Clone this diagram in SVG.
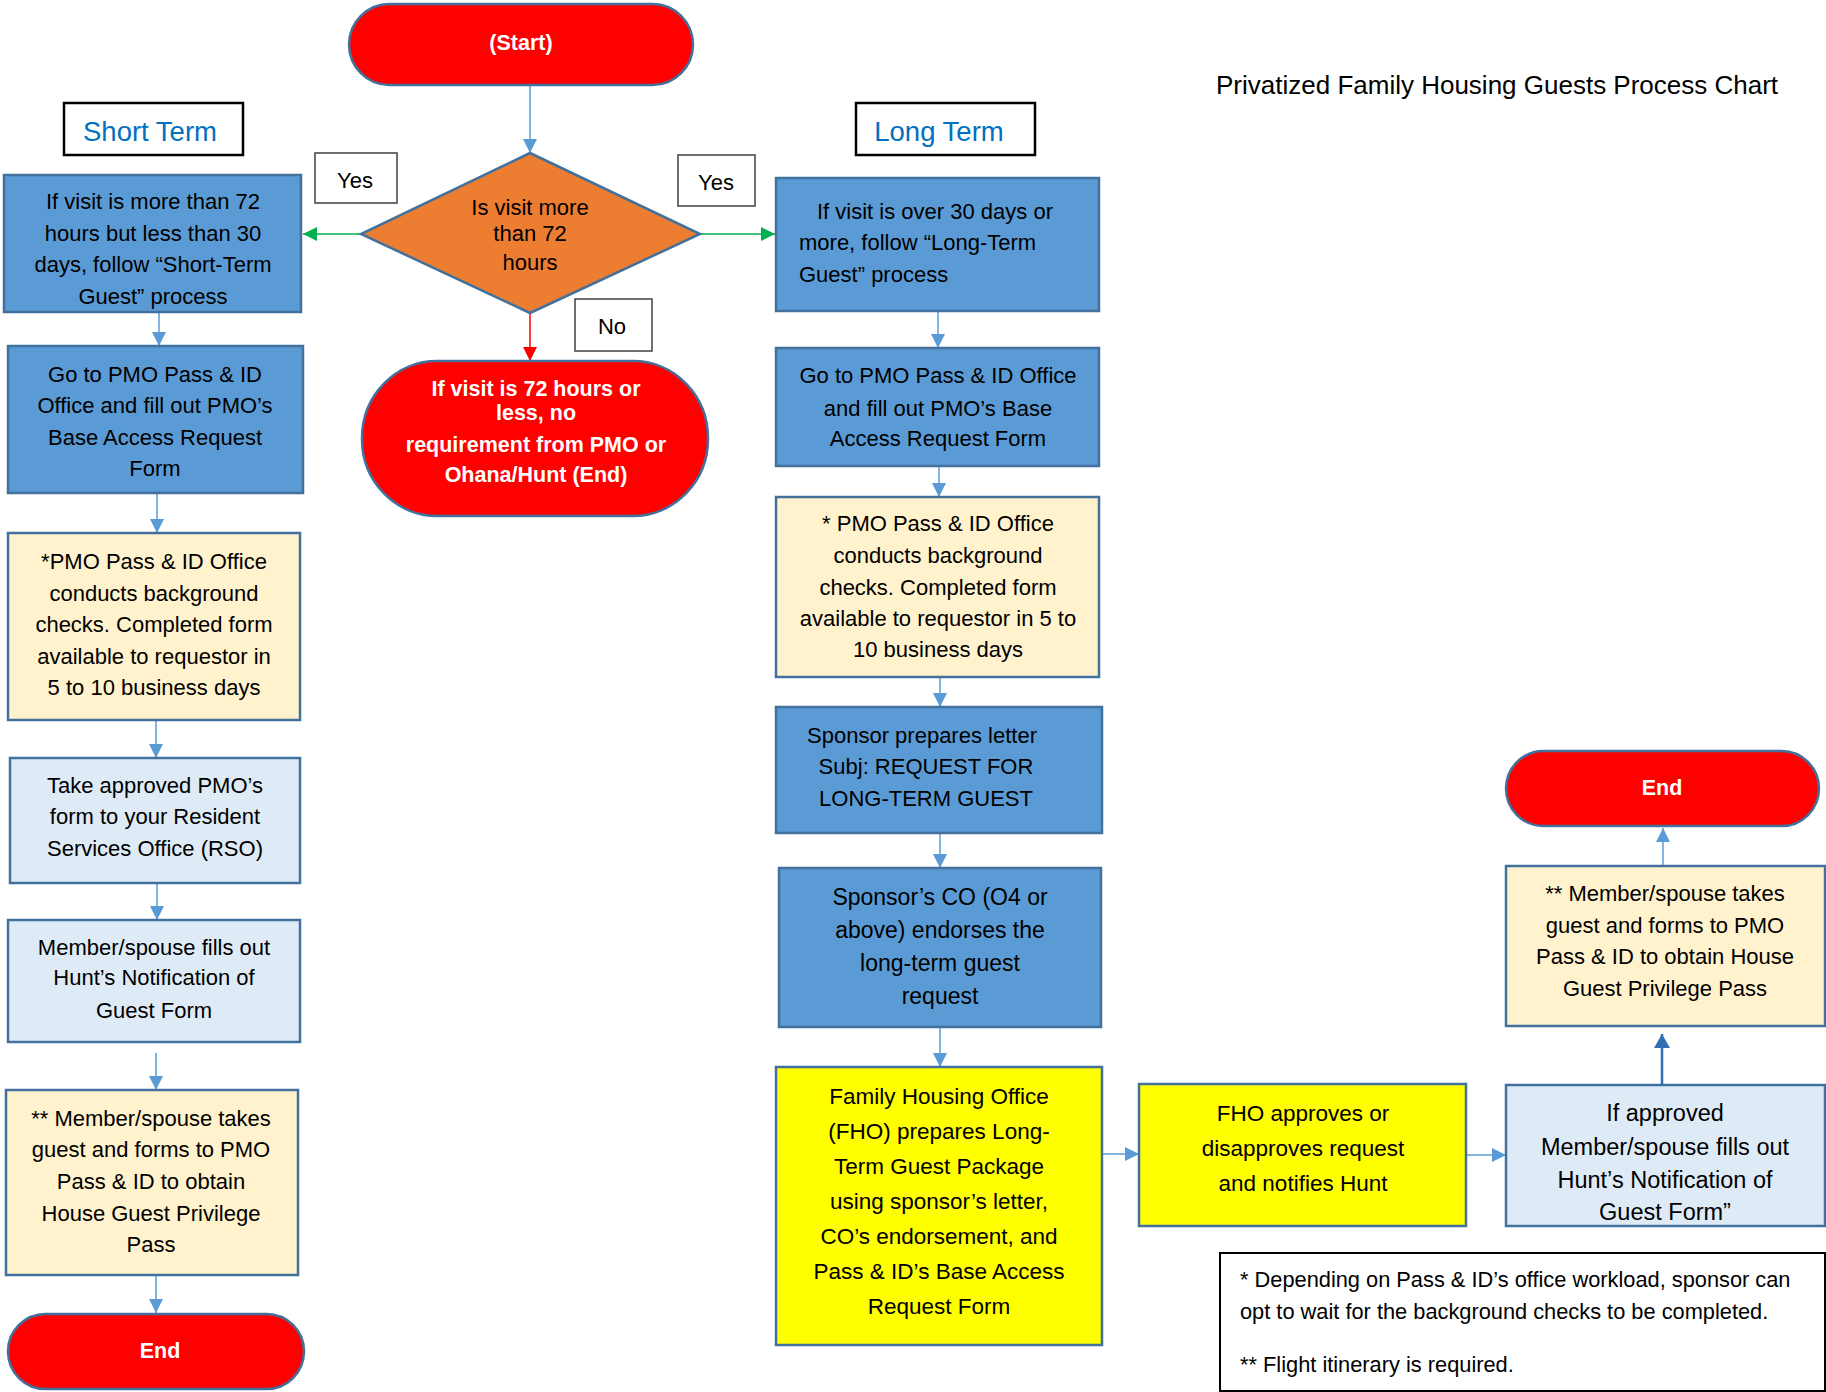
<svg xmlns="http://www.w3.org/2000/svg" width="1826" height="1392" viewBox="0 0 1826 1392">
<style>
text{font-family:"Liberation Sans",Arial,sans-serif;fill:#000;}
.t{font-size:22px;text-anchor:middle;}
.t22{font-size:22.5px;text-anchor:middle;}
.w{fill:#fff;font-weight:bold;font-size:21.5px;text-anchor:middle;}
.box{stroke:#41719C;stroke-width:2.5;}
.blue{fill:#5B9BD5;}
.light{fill:#DEEBF7;}
.beige{fill:#FFF2CC;}
.yellow{fill:#FFFF00;}
.red{fill:#FF0000;}
.lbl{fill:#fff;stroke:#404040;stroke-width:1.5;}
.hdr{fill:#fff;stroke:#000;stroke-width:2.5;}
.c{stroke:#5B9BD5;stroke-width:1.5;fill:none;}
</style>
<defs>
<marker id="ab" markerUnits="userSpaceOnUse" markerWidth="14" markerHeight="14" refX="14" refY="7" orient="auto"><path d="M0,0 L14,7 L0,14 z" fill="#5B9BD5"/></marker>
<marker id="ag" markerUnits="userSpaceOnUse" markerWidth="14" markerHeight="14" refX="14" refY="7" orient="auto"><path d="M0,0 L14,7 L0,14 z" fill="#00B050"/></marker>
<marker id="ar" markerUnits="userSpaceOnUse" markerWidth="14" markerHeight="14" refX="14" refY="7" orient="auto"><path d="M0,0 L14,7 L0,14 z" fill="#FF0000"/></marker>
<marker id="ad" markerUnits="userSpaceOnUse" markerWidth="14" markerHeight="16" refX="14" refY="8" orient="auto"><path d="M0,0 L14,8 L0,16 z" fill="#2F6DB5"/></marker>
</defs>

<g id="connectors">
<line class="c" x1="530" y1="85" x2="530" y2="153" marker-end="url(#ab)"/>
<line x1="361" y1="234" x2="303" y2="234" stroke="#00B050" stroke-width="1.5" marker-end="url(#ag)"/>
<line x1="700" y1="234" x2="775" y2="234" stroke="#00B050" stroke-width="1.5" marker-end="url(#ag)"/>
<line x1="530" y1="313" x2="530" y2="361" stroke="#FF0000" stroke-width="1.5" marker-end="url(#ar)"/>
<line class="c" x1="159" y1="312" x2="159" y2="346" marker-end="url(#ab)"/>
<line class="c" x1="157" y1="493" x2="157" y2="533" marker-end="url(#ab)"/>
<line class="c" x1="156" y1="720" x2="156" y2="758" marker-end="url(#ab)"/>
<line class="c" x1="157" y1="883" x2="157" y2="920" marker-end="url(#ab)"/>
<line class="c" x1="156" y1="1053" x2="156" y2="1090" marker-end="url(#ab)"/>
<line class="c" x1="156" y1="1275" x2="156" y2="1313" marker-end="url(#ab)"/>
<line class="c" x1="938" y1="311" x2="938" y2="348" marker-end="url(#ab)"/>
<line class="c" x1="939" y1="466" x2="939" y2="497" marker-end="url(#ab)"/>
<line class="c" x1="940" y1="677" x2="940" y2="707" marker-end="url(#ab)"/>
<line class="c" x1="940" y1="833" x2="940" y2="868" marker-end="url(#ab)"/>
<line class="c" x1="940" y1="1027" x2="940" y2="1067" marker-end="url(#ab)"/>
<line class="c" x1="1102" y1="1154" x2="1139" y2="1154" marker-end="url(#ab)"/>
<line class="c" x1="1466" y1="1155" x2="1506" y2="1155" marker-end="url(#ab)"/>
<line x1="1662" y1="1085" x2="1662" y2="1034" stroke="#2F6DB5" stroke-width="2.5" marker-end="url(#ad)"/>
<line class="c" x1="1663" y1="866" x2="1663" y2="828" marker-end="url(#ab)"/>
</g>

<g id="title"><text x="1216" y="94" style="font-size:26px">Privatized Family Housing Guests Process Chart</text></g>

<g id="start"><rect class="box red" x="349" y="4" width="344" height="81" rx="40.5"/><text class="w" x="521" y="50">(Start)</text></g>

<g id="short-term-header"><rect class="hdr" x="64" y="103" width="179" height="52"/><text x="150" y="141" style="font-size:27.5px;text-anchor:middle;fill:#0070C0">Short Term</text></g>
<g id="long-term-header"><rect class="hdr" x="856" y="103" width="179" height="52"/><text x="939" y="141" style="font-size:27.5px;text-anchor:middle;fill:#0070C0">Long Term</text></g>

<g id="yes-left"><rect class="lbl" x="315" y="153" width="82" height="50"/><text class="t" x="355" y="188">Yes</text></g>
<g id="yes-right"><rect class="lbl" x="678" y="155" width="77" height="51"/><text class="t" x="716" y="190">Yes</text></g>
<g id="no"><rect class="lbl" x="575" y="299" width="77" height="52"/><text class="t" x="612" y="334">No</text></g>

<g id="decision"><polygon class="box" points="530,153 700,234 530,313 361,234" fill="#ED7D31"/>
<text class="t" x="530" y="215">Is visit more</text><text class="t" x="530" y="241">than 72</text><text class="t" x="530" y="270">hours</text></g>

<g id="no-end"><rect class="box red" x="362" y="361" width="346" height="155" rx="75" ry="77"/>
<text class="w" x="536" y="396">If visit is 72 hours or</text><text class="w" x="536" y="420">less, no</text><text class="w" x="536" y="452">requirement from PMO or</text><text class="w" x="536" y="482">Ohana/Hunt (End)</text></g>

<g id="st1"><rect class="box blue" x="4" y="175" width="297" height="137"/>
<text class="t" x="153" y="209">If visit is more than 72</text><text class="t" x="153" y="241">hours but less than 30</text><text class="t" x="153" y="272">days, follow “Short-Term</text><text class="t" x="153" y="304">Guest” process</text></g>

<g id="st2"><rect class="box blue" x="8" y="346" width="295" height="147"/>
<text class="t" x="155" y="382">Go to PMO Pass &amp; ID</text><text class="t" x="155" y="413">Office and fill out PMO’s</text><text class="t" x="155" y="445">Base Access Request</text><text class="t" x="155" y="476">Form</text></g>

<g id="st3"><rect class="box beige" x="8" y="533" width="292" height="187"/>
<text class="t" x="154" y="569">*PMO Pass &amp; ID Office</text><text class="t" x="154" y="601">conducts background</text><text class="t" x="154" y="632">checks. Completed form</text><text class="t" x="154" y="664">available to requestor in</text><text class="t" x="154" y="695">5 to 10 business days</text></g>

<g id="st4"><rect class="box light" x="10" y="758" width="290" height="125"/>
<text class="t" x="155" y="793">Take approved PMO’s</text><text class="t" x="155" y="824">form to your Resident</text><text class="t" x="155" y="856">Services Office (RSO)</text></g>

<g id="st5"><rect class="box light" x="8" y="920" width="292" height="122"/>
<text class="t" x="154" y="955">Member/spouse fills out</text><text class="t" x="154" y="985">Hunt’s Notification of</text><text class="t" x="154" y="1018">Guest Form</text></g>

<g id="st6"><rect class="box beige" x="6" y="1090" width="292" height="185"/>
<text class="t" x="151" y="1126">** Member/spouse takes</text><text class="t" x="151" y="1157">guest and forms to PMO</text><text class="t" x="151" y="1189">Pass &amp; ID to obtain</text><text class="t" x="151" y="1221">House Guest Privilege</text><text class="t" x="151" y="1252">Pass</text></g>

<g id="st-end"><rect class="box red" x="8" y="1314" width="296" height="75" rx="37.5"/><text class="w" x="160" y="1358">End</text></g>

<g id="lt1"><rect class="box blue" x="776" y="178" width="323" height="133"/>
<text x="817" y="219" style="font-size:22px">If visit is over 30 days or</text><text x="799" y="250" style="font-size:22px">more, follow “Long-Term</text><text x="799" y="282" style="font-size:22px">Guest” process</text></g>

<g id="lt2"><rect class="box blue" x="776" y="348" width="323" height="118"/>
<text class="t" x="938" y="383">Go to PMO Pass &amp; ID Office</text><text class="t" x="938" y="416">and fill out PMO’s Base</text><text class="t" x="938" y="446">Access Request Form</text></g>

<g id="lt3"><rect class="box beige" x="776" y="497" width="323" height="180"/>
<text class="t" x="938" y="531">* PMO Pass &amp; ID Office</text><text class="t" x="938" y="563">conducts background</text><text class="t" x="938" y="595">checks. Completed form</text><text class="t" x="938" y="626">available to requestor in 5 to</text><text class="t" x="938" y="657">10 business days</text></g>

<g id="lt4"><rect class="box blue" x="776" y="707" width="326" height="126"/>
<text class="t" x="922" y="743">Sponsor prepares letter</text><text class="t" x="926" y="774">Subj: REQUEST FOR</text><text class="t" x="926" y="806">LONG-TERM GUEST</text></g>

<g id="lt5"><rect class="box blue" x="779" y="868" width="322" height="159"/>
<text class="t" x="940" y="905" style="font-size:23px">Sponsor’s CO (O4 or</text><text class="t" x="940" y="938" style="font-size:23px">above) endorses the</text><text class="t" x="940" y="971" style="font-size:23px">long-term guest</text><text class="t" x="940" y="1004" style="font-size:23px">request</text></g>

<g id="lt6"><rect class="box yellow" x="776" y="1067" width="326" height="278"/>
<text class="t22" x="939" y="1104">Family Housing Office</text><text class="t22" x="939" y="1139">(FHO) prepares Long-</text><text class="t22" x="939" y="1174">Term Guest Package</text><text class="t22" x="939" y="1209">using sponsor’s letter,</text><text class="t22" x="939" y="1244">CO’s endorsement, and</text><text class="t22" x="939" y="1279">Pass &amp; ID’s Base Access</text><text class="t22" x="939" y="1314">Request Form</text></g>

<g id="fho"><rect class="box yellow" x="1139" y="1084" width="327" height="142"/>
<text class="t22" x="1303" y="1121">FHO approves or</text><text class="t22" x="1303" y="1156">disapproves request</text><text class="t22" x="1303" y="1191">and notifies Hunt</text></g>

<g id="hunt"><rect class="box light" x="1506" y="1085" width="319" height="141"/>
<text class="t" x="1665" y="1121" style="font-size:23.5px">If approved</text><text class="t" x="1665" y="1155" style="font-size:23.5px">Member/spouse fills out</text><text class="t" x="1665" y="1188" style="font-size:23.5px">Hunt’s Notification of</text><text class="t" x="1665" y="1220" style="font-size:23.5px">Guest Form”</text></g>

<g id="lt-pass"><rect class="box beige" x="1506" y="866" width="319" height="160"/>
<text class="t" x="1665" y="901">** Member/spouse takes</text><text class="t" x="1665" y="933">guest and forms to PMO</text><text class="t" x="1665" y="964">Pass &amp; ID to obtain House</text><text class="t" x="1665" y="996">Guest Privilege Pass</text></g>

<g id="lt-end"><rect class="box red" x="1506" y="751" width="313" height="75" rx="37.5"/><text class="w" x="1662" y="795">End</text></g>

<g id="note"><rect x="1220" y="1253" width="605" height="138" fill="#fff" stroke="#000" stroke-width="2"/>
<text x="1240" y="1287" style="font-size:21.8px">* Depending on Pass &amp; ID’s office workload, sponsor can</text>
<text x="1240" y="1319" style="font-size:21.8px">opt to wait for the background checks to be completed.</text>
<text x="1240" y="1372" style="font-size:21.8px">** Flight itinerary is required.</text></g>
</svg>
